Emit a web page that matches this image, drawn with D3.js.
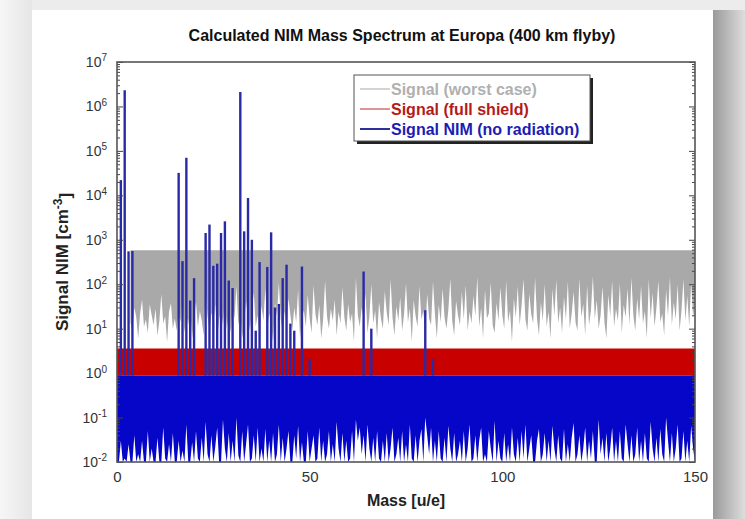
<!DOCTYPE html>
<html>
<head>
<meta charset="utf-8">
<script src="https://cdn.jsdelivr.net/npm/d3@7"></script>
<style>
  body { margin: 0; background: #ececec; }
  svg { display: block; font-family: "Liberation Sans", Arial, sans-serif; }
</style>
</head>
<body>
<div id="wrapper"></div>
<script>
// spectrum grid: 0 .. 150 u/e in 0.5 steps
const massStep = 0.5
// lower edge of the worst case noise band (null where no band is drawn)
const worstCaseLow = [
  null, null, null, null, null, null, null, 14, 9, 30, 18, 6, 22, 45, 11, 16, 8, 35, 20, 12,
  28, 7, 15, 60, 13, 19, 5, 24, 38, 10, 17, 9, 26, 14, 50, 8, 21, 12, 33, 6,
  18, 40, 11, 25, 15, 7, 70, 19, 9, 23, 13, 36, 6, 16, 28, 12, 55, 10, 20, 8,
  30, 17, 90, 12, 24, 6, 14, 42, 18, 9, 27, 65, 11, 20, 7, 33, 15, 80, 10, 22,
  13, 5, 38, 19, 110, 16, 8, 25, 12, 48, 20, 9, 30, 14, 75, 6, 18, 26, 11, 58,
  17, 8, 95, 21, 12, 34, 6, 16, 120, 19, 10, 28, 15, 45, 7, 24, 13, 85, 18, 9,
  36, 14, 22, 5, 140, 20, 11, 30, 16, 62, 8, 19, 100, 13, 26, 6, 40, 17, 10, 70,
  23, 12, 130, 18, 7, 32, 15, 50, 9, 21, 105, 14, 28, 5, 44, 19, 11, 90, 16, 25,
  8, 60, 17, 12, 115, 22, 6, 35, 14, 80, 18, 10, 27, 135, 15, 7, 42, 20, 12, 68,
  16, 95, 9, 24, 13, 55, 19, 145, 11, 30, 6, 74, 17, 22, 110, 12, 8, 38, 15, 85,
  20, 10, 120, 14, 26, 5, 48, 18, 90, 12, 33, 130, 16, 9, 62, 21, 13, 140, 17, 7,
  40, 15, 100, 11, 24, 6, 78, 19, 125, 13, 30, 8, 52, 16, 115, 10, 22, 68, 14, 9,
  135, 18, 36, 7, 95, 12, 26, 150, 16, 44, 10, 20, 88, 14, 6, 58, 19, 120, 11, 28,
  15, 105, 8, 34, 18, 80, 12, 140, 20, 9, 48, 16, 92, 13, 25, 6, 130, 17, 64, 11,
  30, 118, 14, 22, 7, 75, 19, 145, 12, 40, 16, 98, 9, 26, 128, 15, 55, 11, 110, 18,
  40
]
// lower edge of the NIM (no radiation) noise band
const noRadiationLow = [
  0.01, 0.01, 0.03, 0.01, 0.012, 0.01, 0.025, 0.01, 0.01, 0.04, 0.01, 0.015, 0.01, 0.03, 0.01, 0.01, 0.05, 0.01, 0.02, 0.01,
  0.01, 0.035, 0.01, 0.01, 0.06, 0.012, 0.01, 0.025, 0.01, 0.045, 0.01, 0.01, 0.03, 0.01, 0.018, 0.01, 0.07, 0.01, 0.01, 0.028,
  0.01, 0.05, 0.012, 0.01, 0.035, 0.01, 0.08, 0.015, 0.01, 0.04, 0.01, 0.022, 0.06, 0.01, 0.01, 0.09, 0.02, 0.01, 0.045, 0.01,
  0.03, 0.01, 0.1, 0.014, 0.01, 0.05, 0.01, 0.025, 0.07, 0.01, 0.012, 0.04, 0.01, 0.06, 0.01, 0.02, 0.01, 0.055, 0.01, 0.03,
  0.01, 0.045, 0.01, 0.015, 0.07, 0.01, 0.035, 0.01, 0.02, 0.05, 0.01, 0.01, 0.04, 0.012, 0.065, 0.01, 0.028, 0.01, 0.01, 0.05,
  0.01, 0.02, 0.04, 0.01, 0.012, 0.06, 0.01, 0.03, 0.01, 0.015, 0.05, 0.01, 0.025, 0.01, 0.08, 0.02, 0.01, 0.045, 0.01, 0.03,
  0.01, 0.012, 0.05, 0.01, 0.09, 0.03, 0.06, 0.015, 0.04, 0.01, 0.07, 0.02, 0.01, 0.035, 0.01, 0.05, 0.012, 0.01, 0.03, 0.01,
  0.045, 0.01, 0.02, 0.06, 0.01, 0.015, 0.035, 0.01, 0.05, 0.01, 0.025, 0.01, 0.07, 0.012, 0.01, 0.04, 0.01, 0.03, 0.055, 0.01,
  0.1, 0.04, 0.015, 0.06, 0.01, 0.03, 0.01, 0.05, 0.012, 0.01, 0.035, 0.01, 0.065, 0.02, 0.01, 0.045, 0.01, 0.015, 0.03, 0.01,
  0.05, 0.01, 0.02, 0.07, 0.01, 0.012, 0.04, 0.01, 0.03, 0.06, 0.01, 0.015, 0.01, 0.05, 0.02, 0.01, 0.085, 0.01, 0.03, 0.012,
  0.01, 0.045, 0.01, 0.025, 0.01, 0.06, 0.015, 0.01, 0.035, 0.01, 0.05, 0.012, 0.07, 0.01, 0.02, 0.04, 0.01, 0.01, 0.03, 0.055,
  0.01, 0.015, 0.045, 0.01, 0.03, 0.01, 0.065, 0.02, 0.01, 0.04, 0.012, 0.01, 0.055, 0.01, 0.025, 0.01, 0.035, 0.075, 0.01, 0.015,
  0.04, 0.01, 0.02, 0.06, 0.01, 0.03, 0.012, 0.05, 0.01, 0.01, 0.09, 0.015, 0.035, 0.01, 0.045, 0.01, 0.02, 0.06, 0.01, 0.03,
  0.01, 0.05, 0.012, 0.01, 0.07, 0.025, 0.01, 0.04, 0.01, 0.015, 0.06, 0.01, 0.03, 0.01, 0.045, 0.012, 0.01, 0.08, 0.02, 0.01,
  0.035, 0.01, 0.055, 0.015, 0.01, 0.1, 0.03, 0.01, 0.045, 0.01, 0.02, 0.07, 0.01, 0.012, 0.05, 0.01, 0.03, 0.01, 0.065, 0.02,
  0.01
]
// upper levels of the three noise bands
const worstCaseTop = 580
const fullShieldTop = 3.6
const noRadiationTop = 0.88
// NIM peaks (no radiation)
const peakMass   = [1, 2, 3, 4, 16, 17, 18, 19, 20, 23, 24, 25, 26, 27, 28, 29, 30, 32, 33, 34, 35, 36, 37, 39, 40, 41, 42, 43, 44, 45, 46, 48, 50, 64, 66, 80, 82]
const peakSignal = [2.2e4, 2.3e6, 550, 560, 3.2e4, 330, 7e4, 43, 137, 1420, 2200, 260, 290, 1420, 2600, 121, 82, 2.1e6, 1550, 8700, 1000, 9, 315, 245, 1470, 30, 36, 137, 275, 13, 9, 250, 2.1, 193, 10, 26, 2.1]

const seriesNames = ["Signal (worst case)", "Signal (full shield)", "Signal NIM (no radiation)"]
const yTickExp = [-2, -1, 0, 1, 2, 3, 4, 5, 6, 7]
const xTicks = [0, 50, 100, 150]

const W = 745, H = 519
const margin = {top: 62, right: 50, bottom: 57, left: 117}
const bw = W - margin.left - margin.right
const bh = H - margin.top - margin.bottom

const svg = d3.select("#wrapper").append("svg").attr("width", W).attr("height", H)

// page / card backdrop
const defs = svg.append("defs")
const sh = defs.append("linearGradient").attr("id", "shadowR")
sh.append("stop").attr("offset", "0%").attr("stop-color", "#9a9a9a")
sh.append("stop").attr("offset", "100%").attr("stop-color", "#dedede")
const shl = defs.append("linearGradient").attr("id", "shadowL")
shl.append("stop").attr("offset", "0%").attr("stop-color", "#f6f6f6")
shl.append("stop").attr("offset", "100%").attr("stop-color", "#e6e6e6")
svg.append("rect").attr("x", 0).attr("y", 0).attr("width", 32).attr("height", H).attr("fill", "url(#shadowL)")
svg.append("rect").attr("x", 713).attr("y", 10).attr("width", 32).attr("height", H).attr("fill", "url(#shadowR)")
svg.append("rect").attr("x", 32).attr("y", 10).attr("width", 681).attr("height", H).attr("fill", "#fff")

const bounds = svg.append("g").attr("transform", `translate(${margin.left},${margin.top})`)

const x = d3.scaleLinear().domain([0, 150]).range([0, bw])
const y = d3.scaleLog().domain([1e-2, 1e7]).range([bh, 0])

const rows = worstCaseLow.map((g, i) => ({mass: i * massStep, gray: g, blue: noRadiationLow[i]}))

bounds.append("clipPath").attr("id", "clip").append("rect").attr("width", bw).attr("height", bh)
const plot = bounds.append("g").attr("clip-path", "url(#clip)")

// worst case band
plot.append("path")
  .attr("d", d3.area().defined(d => d.gray != null)
    .x(d => x(d.mass)).y0(d => y(d.gray)).y1(y(worstCaseTop))(rows))
  .attr("fill", "#a9a9a9")

// full shield band
plot.append("path")
  .attr("d", d3.area().x(d => x(d.mass)).y0(y(noRadiationTop)).y1(y(fullShieldTop))(rows))
  .attr("fill", "#c80000")

// no radiation band
plot.append("path")
  .attr("d", d3.area().x(d => x(d.mass)).y0(d => y(d.blue)).y1(y(noRadiationTop))(rows))
  .attr("fill", "#0606c8")

// peaks
plot.selectAll(".peak").data(peakMass).join("line")
  .attr("class", "peak")
  .attr("x1", d => x(d)).attr("x2", d => x(d))
  .attr("y1", y(noRadiationTop))
  .attr("y2", (d, i) => y(peakSignal[i]))
  .attr("stroke", "#2a2aa6")
  .attr("stroke-width", 2.4)

// frame + log ticks
const minor = []
yTickExp.slice(0, -1).forEach(e => { for (let k = 2; k < 10; k++) minor.push(k * Math.pow(10, e)) })
const tickStyle = g => { g.select(".domain").remove(); g.selectAll("line").attr("stroke", "#444") }
bounds.append("g").call(d3.axisLeft(y).tickValues(minor).tickSize(-3).tickFormat("")).call(tickStyle)
bounds.append("g").attr("transform", `translate(${bw},0)`)
  .call(d3.axisRight(y).tickValues(minor).tickSize(-3).tickFormat("")).call(tickStyle)
bounds.append("g").attr("transform", `translate(${bw},0)`)
  .call(d3.axisRight(y).tickValues(yTickExp.map(e => Math.pow(10, e))).tickSize(-6).tickFormat("")).call(tickStyle)

const yAxis = bounds.append("g")
  .call(d3.axisLeft(y).tickValues(yTickExp.map(e => Math.pow(10, e))).tickSize(-6).tickPadding(10))
  .call(tickStyle)
yAxis.selectAll("text").each(function(d) {
  const t = d3.select(this).text("").attr("fill", "#333").style("font-size", "14px")
  t.append("tspan").text("10")
  t.append("tspan").attr("dy", "-0.55em").style("font-size", "10px").text(Math.round(Math.log10(d)))
})

bounds.append("g").attr("transform", `translate(0,${bh})`)
  .call(d3.axisBottom(x).tickValues(xTicks).tickSize(0).tickPadding(9))
  .call(g => g.select(".domain").remove())
  .selectAll("text").attr("fill", "#333").style("font-size", "15px")

bounds.append("rect").attr("width", bw).attr("height", bh)
  .attr("fill", "none").attr("stroke", "#555").attr("stroke-width", 1.6)

// titles
svg.append("text").attr("x", margin.left + bw / 2 - 4).attr("y", 41).attr("text-anchor", "middle")
  .style("font-weight", "bold").style("font-size", "16px").attr("fill", "#111")
  .text("Calculated NIM Mass Spectrum at Europa (400 km flyby)")
svg.append("text").attr("x", margin.left + bw / 2).attr("y", 506).attr("text-anchor", "middle")
  .style("font-weight", "bold").style("font-size", "16px").attr("fill", "#222")
  .text("Mass [u/e]")
const yl = svg.append("text").attr("transform", `translate(68,${margin.top + bh / 2}) rotate(-90)`)
  .attr("text-anchor", "middle").style("font-weight", "bold").style("font-size", "17px").attr("fill", "#222")
yl.append("tspan").text("Signal NIM [cm")
yl.append("tspan").attr("dy", "-0.5em").style("font-size", "12px").text("-3")
yl.append("tspan").attr("dy", "0.5em").text("]")

// legend
const legend = svg.append("g").attr("transform", "translate(354,75)")
legend.append("rect").attr("x", 3).attr("y", 3).attr("width", 236).attr("height", 66).attr("fill", "#222")
legend.append("rect").attr("width", 236).attr("height", 66).attr("fill", "#fff").attr("stroke", "#555")
const legendLine = ["#c4c4c4", "#d07070", "#30309a"]
const legendText = ["#b0b0b0", "#b41a1a", "#1c1cb4"]
seriesNames.forEach((name, i) => {
  const ly = 14 + i * 20
  legend.append("line").attr("x1", 6).attr("x2", 36).attr("y1", ly).attr("y2", ly)
    .attr("stroke", legendLine[i]).attr("stroke-width", i === 2 ? 2 : 1.5)
  legend.append("text").attr("x", 37).attr("y", ly).attr("dy", "0.35em")
    .style("font-weight", "bold").style("font-size", "16px").attr("fill", legendText[i]).text(name)
})
</script>
</body>
</html>
